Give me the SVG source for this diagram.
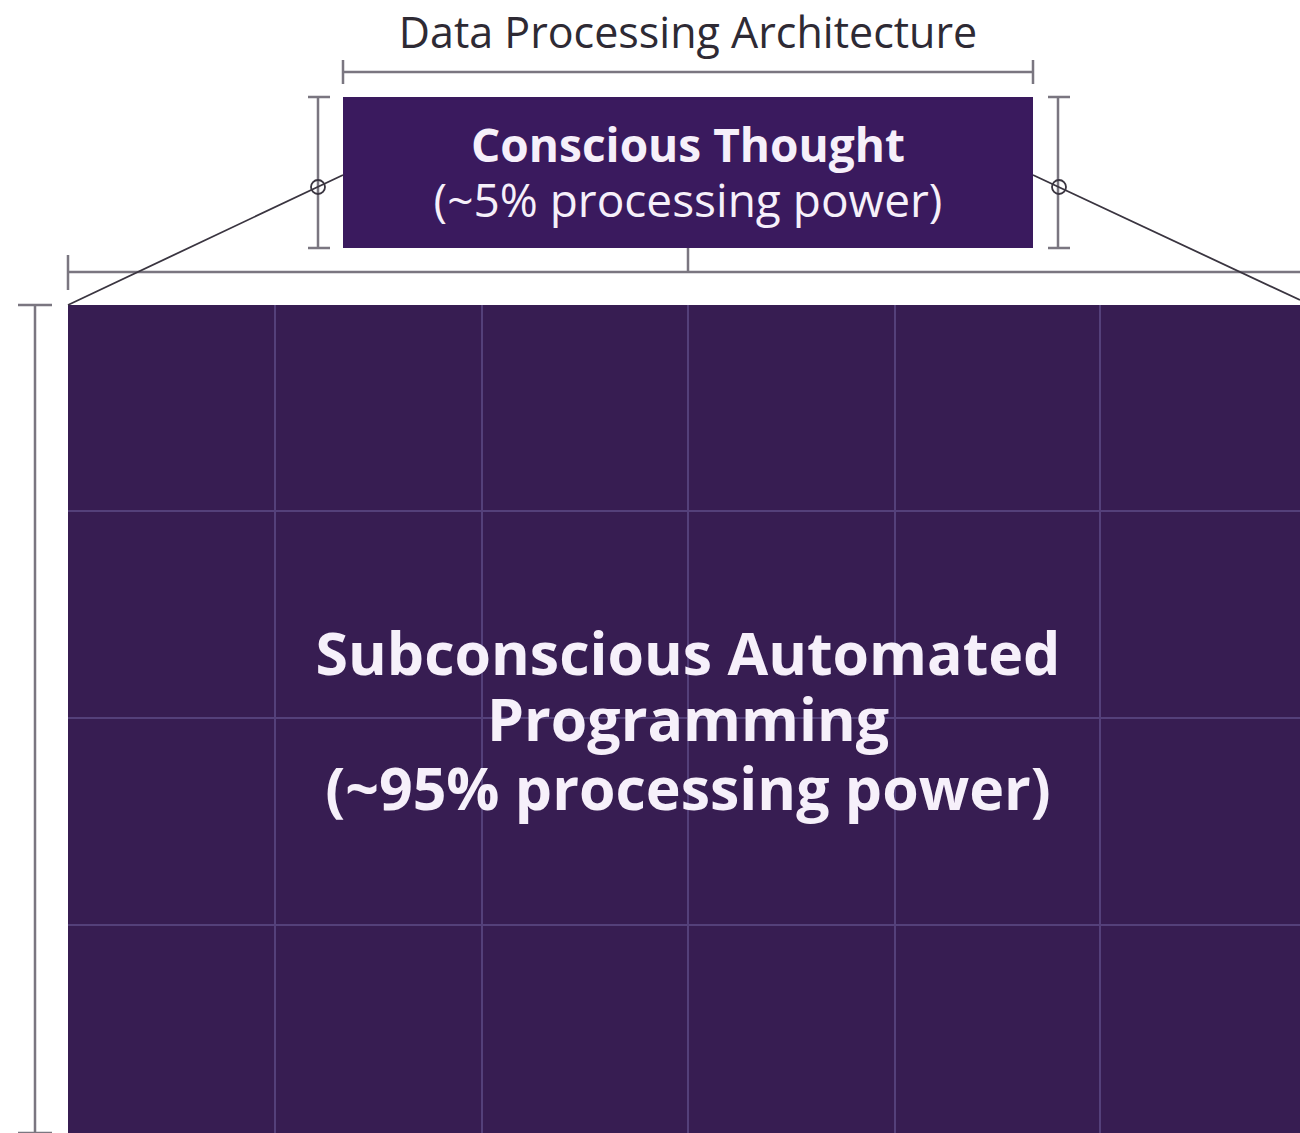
<svg xmlns="http://www.w3.org/2000/svg" width="1300" height="1133" viewBox="0 0 1300 1133">
<style>
.dim{stroke:#7a7680;stroke-width:2.5;fill:none}
.lead{stroke:#3a3540;stroke-width:1.8;fill:none}
.grid{stroke:#54407a;stroke-width:2;fill:none}
.t{font-family:"Open Sans","Liberation Sans",sans-serif;fill:#f6f0fa;text-anchor:middle}
</style>
<rect width="1300" height="1133" fill="#ffffff"/>
<text x="688" y="48" style="font-family:'Open Sans','Liberation Sans',sans-serif;font-size:43px;fill:#2e2a34;text-anchor:middle">Data Processing Architecture</text>
<g id="dimensions">
<path class="dim" d="M343 72H1033M343 60V84M1033 60V84"/>
<path class="dim" d="M318 97V248M308 97H330M308 248H330"/>
<path class="dim" d="M1058 97V248M1048 97H1070M1048 248H1070"/>
<path class="dim" d="M68 272H1300M68 255V290M688 248V272"/>
<path class="dim" d="M35 305V1133M18 305H52M18 1133H52"/>
</g>
<g id="subconscious">
<rect x="68" y="305" width="1240" height="840" fill="#371d52"/>
<path class="grid" d="M275 305V1133M482 305V1133M688 305V1133M895 305V1133M1100 305V1133M68 511H1300M68 718H1300M68 925H1300"/>
<text class="t" style="font-size:59px;font-weight:700"><tspan x="688" y="675">Subconscious Automated</tspan><tspan x="688" y="741">Programming</tspan><tspan x="688" y="810">(~95% processing power)</tspan></text>
</g>
<g id="conscious">
<rect x="343" y="97" width="690" height="151" fill="#3a1a5e"/>
<text class="t" style="font-size:46px;font-weight:700" x="688" y="162">Conscious Thought</text>
<text class="t" style="font-size:46px" x="688" y="217">(~5% processing power)</text>
</g>
<g id="connectors">
<path class="lead" d="M343 175L68 305M1033 175L1300 300"/>
<circle class="lead" cx="318" cy="187" r="7"/>
<circle class="lead" cx="1059" cy="187" r="7"/>
</g>
</svg>
